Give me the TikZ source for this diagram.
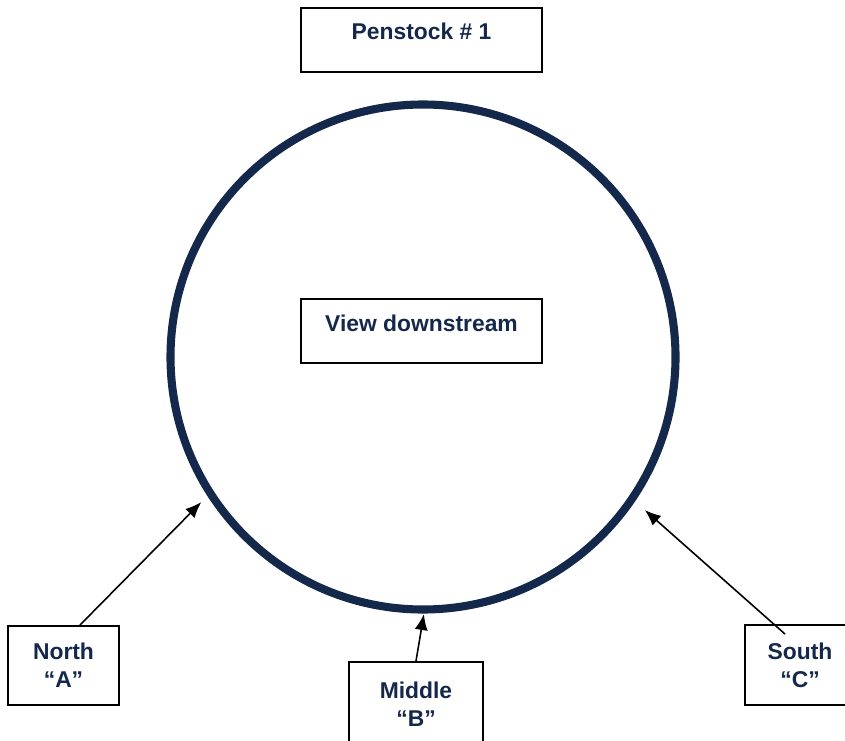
\documentclass[tikz,border=0pt]{standalone}
\usepackage{fontspec}
\setmainfont{Liberation Sans}
\usepackage{xcolor}
\usetikzlibrary{calc,arrows.meta}
\definecolor{navy}{HTML}{14284B}

\tikzset{
	tag/.style={draw=black, line width=1.1pt, fill=white, inner sep=0pt,
		text=navy, font=\fontsize{13}{16}\selectfont\bfseries, align=center},
	pointer/.style={line width=0.9pt, -{Latex[length=3.2mm,width=2.6mm]}}
}

\begin{document}
\begin{tikzpicture}
				\useasboundingbox (0,0) rectangle (16.9,14.8);
				\coordinate (C) at (8.46,7.66);
				
				\draw[navy, line width=4.6pt] (C) circle (5.05);
				
				\node[tag, minimum width=4.82cm, text height=0.64cm, text depth=0.64cm] (title) at (8.43,14.0) {Penstock \# 1};
				\node[tag, minimum width=4.82cm, text height=0.64cm, text depth=0.64cm] (view) at (8.43,8.18) {View downstream};
				
				\node[tag, minimum width=2.22cm, minimum height=1.58cm] (north) at (1.27,1.49) {North\\``A''};
				\node[tag, minimum width=2.68cm, minimum height=1.7cm] (middle) at (8.32,0.71) {Middle\\``B''};
				\node[tag, minimum width=2.2cm, minimum height=1.6cm] (south) at (16.0,1.5) {South\\``C''};
				
				\coordinate (tipA) at ($(C)+(213.2:5.3)$);
				\coordinate (tipB) at ($(C)+(270.2:5.14)$);
				\coordinate (tipC) at ($(C)+(325.4:5.39)$);
				
				\draw[pointer] ($(north.north)+(0.33,0)$) -- (tipA);
				\draw[pointer] (middle.north) -- (tipB);
				\draw[pointer] ($(south.north)+(-0.3,-0.2)$) -- (tipC);
			\end{tikzpicture}
\end{document}
